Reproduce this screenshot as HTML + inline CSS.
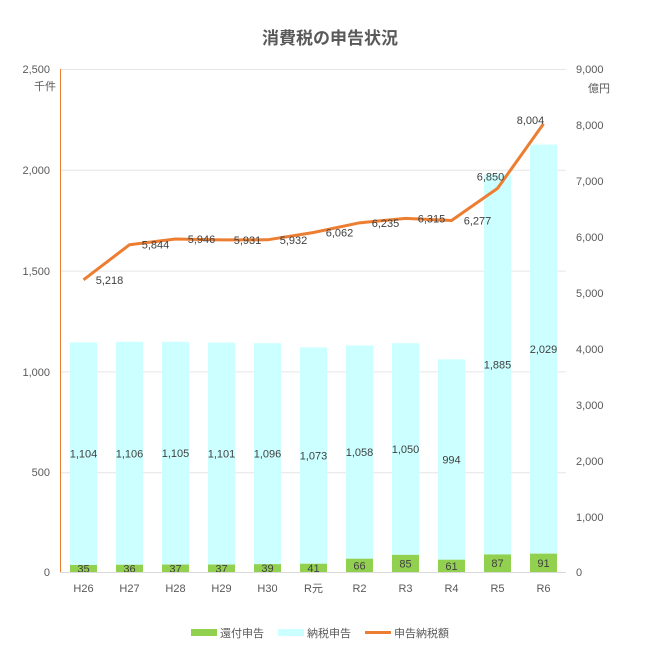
<!DOCTYPE html>
<html><head><meta charset="utf-8"><style>
html,body{margin:0;padding:0;background:#fff;}
svg text{font-family:"Liberation Sans","Noto Sans CJK JP",sans-serif;}
</style></head><body>
<svg width="649" height="661" viewBox="0 0 649 661" xmlns="http://www.w3.org/2000/svg">
<rect width="649" height="661" fill="#fff"/>
<text x="330" y="44" text-anchor="middle" font-size="17" font-weight="bold" fill="#595959">消費税の申告状況</text>
<g stroke="#e6e6e6" stroke-width="1">
<line x1="61" y1="69.5" x2="566" y2="69.5"/>
<line x1="61" y1="170.3" x2="566" y2="170.3"/>
<line x1="61" y1="271.1" x2="566" y2="271.1"/>
<line x1="61" y1="371.9" x2="566" y2="371.9"/>
<line x1="61" y1="472.7" x2="566" y2="472.7"/>
</g>
<g font-size="11" fill="#595959" text-anchor="end">
<text x="50" y="73">2,500</text>
<text x="50" y="174">2,000</text>
<text x="50" y="275">1,500</text>
<text x="50" y="376">1,000</text>
<text x="50" y="476">500</text>
<text x="50" y="576">0</text>
<text x="56" y="90">千件</text>
</g>
<g font-size="11" fill="#595959" text-anchor="start">
<text x="576" y="73">9,000</text>
<text x="576" y="129">8,000</text>
<text x="576" y="185">7,000</text>
<text x="576" y="241">6,000</text>
<text x="576" y="297">5,000</text>
<text x="576" y="353">4,000</text>
<text x="576" y="409">3,000</text>
<text x="576" y="465">2,000</text>
<text x="576" y="521">1,000</text>
<text x="576" y="576">0</text>
<text x="588" y="92">億円</text>
</g>
<g id="bars"></g>
<line x1="60.5" y1="69" x2="60.5" y2="572" stroke="#ed7d31" stroke-width="1"/>
<line x1="60" y1="572.5" x2="566" y2="572.5" stroke="#d9d9d9" stroke-width="1"/>
<g id="line"></g>
<g font-size="11" fill="#595959">
<rect x="191" y="629" width="26" height="7" fill="#92d050"/>
<text x="220" y="637">還付申告</text>
<rect x="278" y="629" width="26" height="7" fill="#ccffff"/>
<text x="307" y="637">納税申告</text>
<line x1="365" y1="632.5" x2="391" y2="632.5" stroke="#ed7d31" stroke-width="3"/>
<text x="394" y="637">申告納税額</text>
</g>
<script>
var cats=["H26","H27","H28","H29","H30","R元","R2","R3","R4","R5","R6"];
var g=[35,36,37,37,39,41,66,85,61,87,91];
var c=[1104,1106,1105,1101,1096,1073,1058,1050,994,1885,2029];
var t=[5218,5844,5946,5931,5932,6062,6235,6315,6277,6850,8004];
var ns="http://www.w3.org/2000/svg";
function el(p,n,a,tx){var e=document.createElementNS(ns,n);for(var k in a)e.setAttribute(k,a[k]);if(tx!==undefined)e.textContent=tx;p.appendChild(e);return e;}
var B=document.getElementById("bars"),L=document.getElementById("line");
var sy=504/2500, sr=504/9000, pts=[];
for(var i=0;i<11;i++){
 var cx=83.5+46*i, x=cx-13.5;
 var yg=572-g[i]*sy, yc=yg-c[i]*sy;
 el(B,"rect",{x:x,y:yc,width:27,height:c[i]*sy,fill:"#ccffff"});
 el(B,"rect",{x:x,y:yg,width:27,height:g[i]*sy,fill:"#92d050"});
 el(B,"text",{x:cx,y:(yg+572)/2+4,"text-anchor":"middle","font-size":"11",fill:"#404040"},g[i]);
 el(B,"text",{x:cx,y:(yc+yg)/2+4,"text-anchor":"middle","font-size":"11",fill:"#404040"},c[i].toLocaleString("en-US"));
 el(B,"text",{x:cx,y:592,"text-anchor":"middle","font-size":"11",fill:"#595959"},cats[i]);
 pts.push(cx+","+(572-t[i]*sr));
}
el(L,"polyline",{points:pts.join(" "),fill:"none",stroke:"#ed7d31","stroke-width":"3","stroke-linejoin":"round"});
for(var i=0;i<11;i++){
 var cx=83.5+46*i, y=572-t[i]*sr, lx, ly;
 if(i<9){lx=cx+26;ly=y+4;}
 else if(i==9){lx=cx-7;ly=y-8;}
 else {lx=cx-13;ly=y;}
 el(L,"text",{x:lx,y:ly,"text-anchor":"middle","font-size":"11",fill:"#404040"},t[i].toLocaleString("en-US"));
}
</script>
</svg>
</body></html>
